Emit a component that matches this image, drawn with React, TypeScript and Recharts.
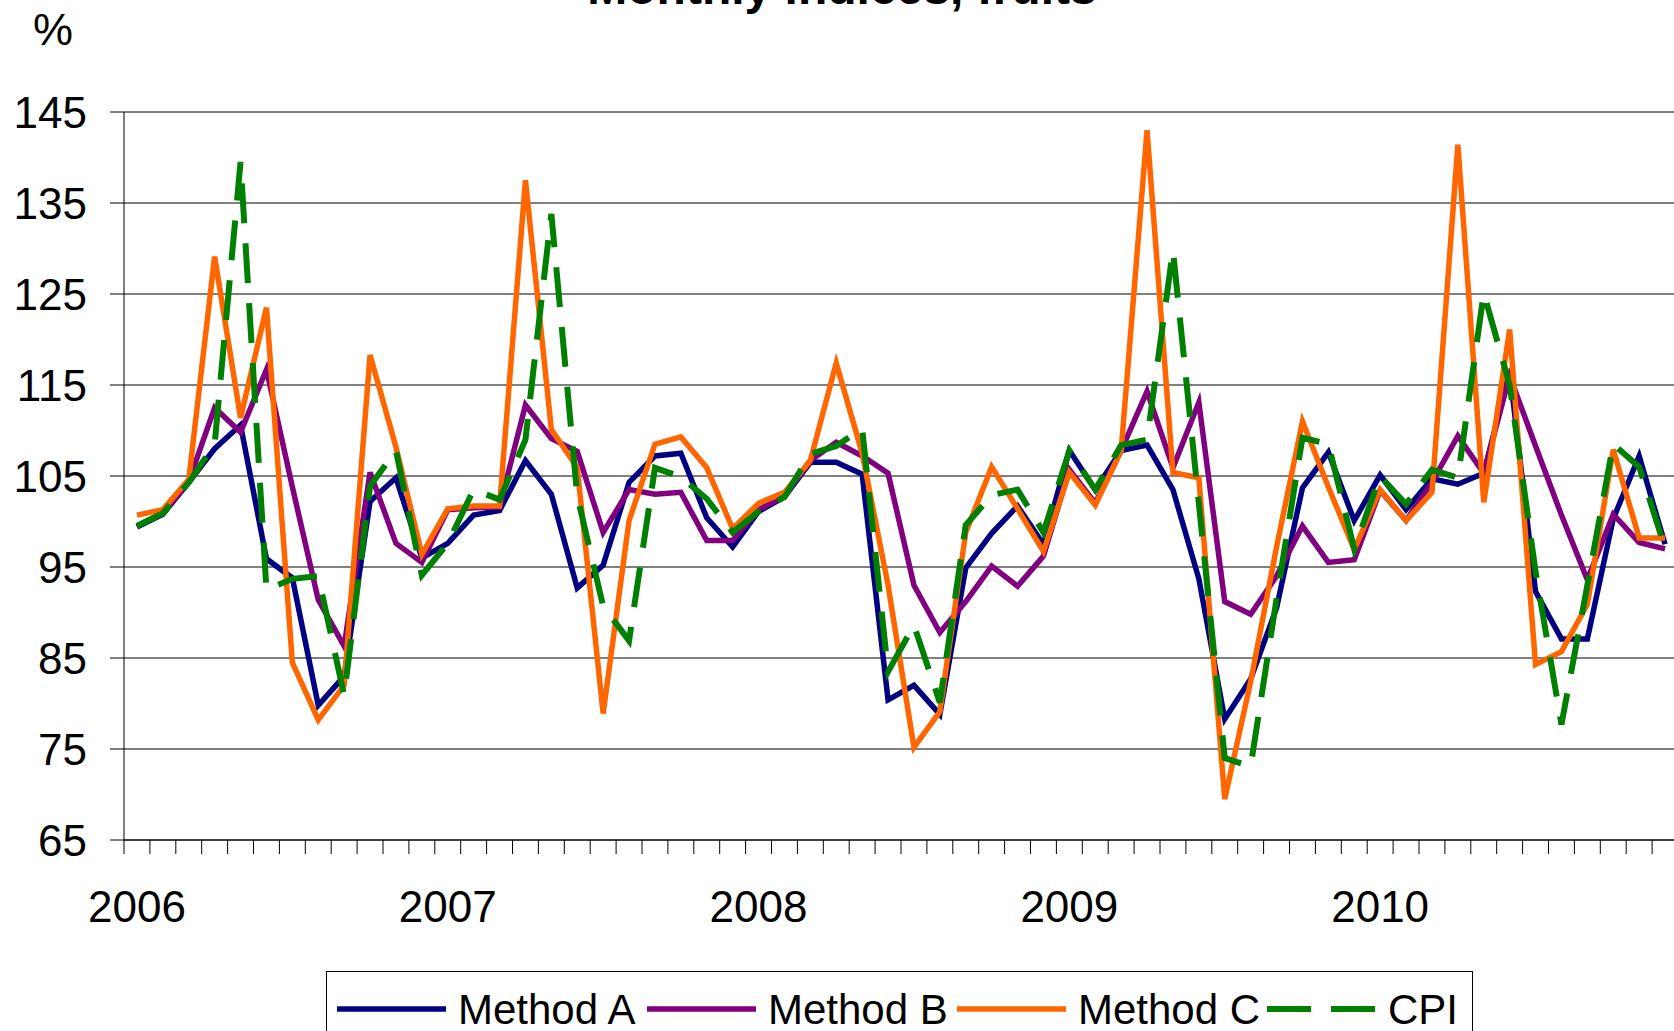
import React from 'react';
import { LineChart, Line, XAxis, YAxis, CartesianGrid } from 'recharts';

const FONT = '"Liberation Sans", Arial, Helvetica, sans-serif';

const years = ['2006', '2007', '2008', '2009', '2010'];
const monthNames = ['Jan', 'Feb', 'Mar', 'Apr', 'May', 'Jun', 'Jul', 'Aug', 'Sep', 'Oct', 'Nov', 'Dec'];
const yTicks = [65, 75, 85, 95, 105, 115, 125, 135, 145];

const methodA = [
  99.4, 100.8, 104.3, 108.0, 110.6, 95.9, 93.8, 79.8, 83.0, 102.2,
  104.8, 96.0, 97.6, 100.7, 101.2, 106.7, 103.0, 92.7, 95.2, 104.3,
  107.2, 107.5, 100.4, 97.2, 101.1, 102.7, 106.5, 106.5, 105.2, 80.4,
  82.0, 78.8, 94.9, 98.7, 101.7, 97.5, 107.8, 103.5, 107.8, 108.4,
  103.5, 93.7, 78.3, 82.7, 90.5, 103.7, 107.6, 100.1, 105.1, 101.3,
  104.7, 104.1, 105.3, 116.5, 92.3, 87.1, 87.1, 100.3, 107.2, 97.5,
];

const methodB = [
  99.5, 100.9, 104.4, 112.5, 109.8, 116.7, 103.8, 91.4, 86.3, 105.4,
  97.6, 95.5, 101.3, 101.5, 101.6, 112.8, 109.1, 107.7, 98.8, 103.5,
  103.0, 103.2, 97.9, 97.9, 101.3, 102.8, 106.7, 108.7, 107.2, 105.3,
  93.0, 87.8, 91.2, 95.1, 92.9, 96.2, 105.7, 102.0, 107.8, 114.3,
  105.9, 113.1, 91.2, 89.8, 94.0, 99.5, 95.5, 95.8, 103.4, 100.1,
  104.3, 109.4, 105.3, 116.0, 108.3, 100.7, 93.6, 100.8, 97.7, 97.0,
];

const methodC = [
  100.7, 101.3, 104.6, 129.1, 111.4, 123.5, 84.5, 78.2, 82.0, 118.3,
  108.2, 96.4, 101.4, 101.7, 101.7, 137.5, 110.1, 105.9, 78.9, 100.1,
  108.5, 109.3, 105.9, 99.2, 102.0, 103.2, 106.7, 117.4, 107.5, 93.0,
  75.2, 79.1, 98.8, 106.0, 101.4, 96.7, 105.4, 101.8, 107.8, 143.0,
  105.4, 104.8, 69.5, 82.4, 97.2, 111.0, 103.8, 96.9, 103.5, 100.1,
  103.2, 141.4, 102.1, 121.1, 84.3, 85.7, 90.9, 107.9, 98.2, 98.2,
];

const cpi = [
  99.5, 100.9, 104.3, 108.5, 139.5, 92.5, 93.7, 94.0, 80.9, 103.9,
  107.8, 94.1, 97.6, 103.5, 102.4, 109.0, 133.8, 102.8, 90.7, 86.9,
  105.9, 104.9, 102.5, 98.8, 101.1, 102.7, 107.4, 108.3, 110.2, 83.5,
  88.6, 80.1, 99.6, 102.9, 103.5, 98.8, 107.8, 103.5, 108.4, 109.0,
  129.8, 102.0, 74.0, 73.1, 91.5, 109.2, 108.5, 97.0, 105.0, 101.9,
  105.7, 104.8, 125.1, 115.0, 94.5, 77.7, 93.0, 108.5, 106.0, 97.1,
];

const series = [
  { key: 'methodA', name: 'Method A', color: '#000080', width: 5.5, dash: undefined as string | undefined },
  { key: 'methodB', name: 'Method B', color: '#800080', width: 5.5, dash: undefined as string | undefined },
  { key: 'methodC', name: 'Method C', color: '#FF6600', width: 5.5, dash: undefined as string | undefined },
  { key: 'cpi', name: 'CPI', color: '#008000', width: 6, dash: '40 20' },
];

const data = methodA.map((v, i) => ({
  x: i + 0.5,
  month: `${monthNames[i % 12]} ${years[Math.floor(i / 12)]}`,
  methodA: v,
  methodB: methodB[i],
  methodC: methodC[i],
  cpi: cpi[i],
}));

const monthCount = methodA.length;
const boundaryTicks = Array.from({ length: monthCount + 1 }, (_, k) => k);
const yearTicks = years.map((_, k) => k * 12 + 0.5);

export default function App() {
  return (
    <div
      style={{
        position: 'absolute',
        left: 0,
        top: 0,
        width: 1674,
        height: 1031,
        overflow: 'hidden',
        background: '#fff',
      }}
    >
      <LineChart
        width={1680}
        height={1031}
        data={data}
        margin={{ top: 112, right: 2, bottom: 189, left: 0 }}
      >
        <CartesianGrid vertical={false} horizontal stroke="#000" strokeWidth={1} />
        <XAxis
          dataKey="x"
          type="number"
          domain={[0, monthCount]}
          ticks={boundaryTicks}
          interval={0}
          tickFormatter={() => ''}
          tick={{ fontSize: 1 }}
          tickSize={14}
          tickLine={{ stroke: '#000', strokeWidth: 1 }}
          axisLine={{ stroke: '#000' }}
          height={1}
          allowDataOverflow
        />
        <XAxis
          xAxisId="labels"
          dataKey="x"
          type="number"
          domain={[0, monthCount]}
          ticks={yearTicks}
          interval={0}
          tickFormatter={(v: number) => years[Math.round((v - 0.5) / 12)]}
          axisLine={false}
          tickLine={false}
          tickSize={0}
          tickMargin={50}
          height={1}
          tick={{ fill: '#000', fontSize: 44, fontFamily: FONT }}
          allowDataOverflow
        />
        <YAxis
          type="number"
          domain={[65, 145]}
          ticks={yTicks}
          interval={0}
          width={124}
          tickSize={14}
          tickMargin={23}
          axisLine={{ stroke: '#000' }}
          tickLine={{ stroke: '#000' }}
          tick={{ fill: '#000', fontSize: 44, fontFamily: FONT }}
          allowDataOverflow
        />
        {series.map((s) => (
          <Line
            key={s.key}
            type="linear"
            dataKey={s.key}
            name={s.name}
            stroke={s.color}
            strokeWidth={s.width}
            strokeDasharray={s.dash}
            dot={false}
            activeDot={false}
            isAnimationActive={false}
          />
        ))}
      </LineChart>
      <svg
        width={1674}
        height={1031}
        style={{ position: 'absolute', left: 0, top: 0, pointerEvents: 'none' }}
        fontFamily={FONT}
      >
        <text x={842} y={4} textAnchor="middle" fontSize={48} fontWeight="bold" fill="#000">
          Monthly indices, fruits
        </text>
        <text x={33} y={45} fontSize={45} fill="#000">
          %
        </text>
        <rect x={326.5} y={971.5} width={1146} height={90} fill="#fff" stroke="#000" strokeWidth={1} />
        {series.map((s, k) => {
          const x0 = 337 + k * 310;
          return (
            <g key={s.key}>
              <line
                x1={x0}
                x2={x0 + 109}
                y1={1009}
                y2={1009}
                stroke={s.color}
                strokeWidth={s.width}
                strokeDasharray={s.dash ? '44 20' : undefined}
              />
              <text x={x0 + 121} y={1024} fontSize={42} fill="#000">
                {s.name}
              </text>
            </g>
          );
        })}
      </svg>
    </div>
  );
}
